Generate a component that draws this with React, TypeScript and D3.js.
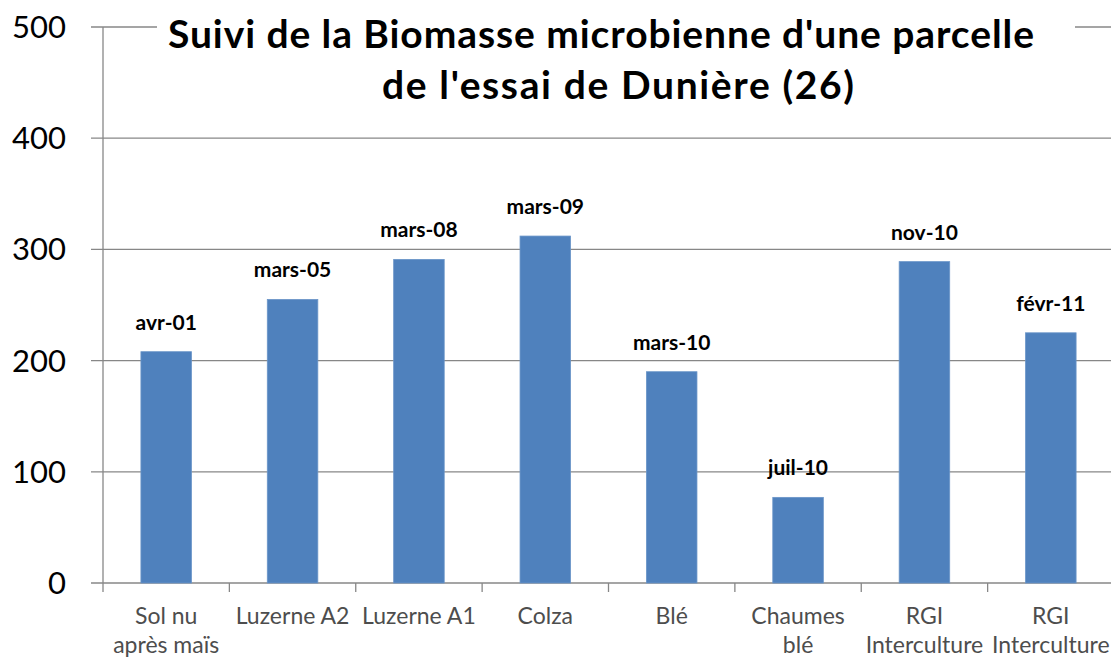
import React, { useEffect, useRef } from "react";
import * as d3 from "d3";

// categories (x axis, two lines each) and the sampling date shown above each bar
const categories = [
  ["Sol nu", "après maïs"],
  ["Luzerne A2"],
  ["Luzerne A1"],
  ["Colza"],
  ["Blé"],
  ["Chaumes", "blé"],
  ["RGI", "Interculture"],
  ["RGI", "Interculture"],
];
const dates = ["avr-01", "mars-05", "mars-08", "mars-09", "mars-10", "juil-10", "nov-10", "févr-11"];
const biomasse = [208, 255, 291, 312, 190, 77, 289, 225];
const yTicks = [0, 100, 200, 300, 400, 500];
const titleLines = ["Suivi de la Biomasse microbienne d'une parcelle", "de l'essai de Dunière (26)"];

const App = () => {
  const node = useRef<SVGSVGElement | null>(null);

  useEffect(() => {
    const width = 1111;
    const height = 657;
    const left = 103;
    const right = 1114;
    const top = 27;
    const bottom = 583;
    const font = "Lato, 'Open Sans', sans-serif";

    const svg = d3.select(node.current);
    svg.selectAll("*").remove();

    const keys = categories.map((c, i) => i + ":" + c.join(" "));

    const x = d3.scaleBand().domain(keys).range([left, right]).paddingInner(0.6).paddingOuter(0.3);
    const xb = d3.scaleBand().domain(keys).range([left, right]);
    const y = d3.scaleLinear().domain([0, 500]).range([bottom, top]);

    // gridlines
    svg.append("g")
      .selectAll("line")
      .data(yTicks)
      .enter()
      .append("line")
      .attr("x1", left - 12)
      .attr("x2", width)
      .attr("y1", d => y(d))
      .attr("y2", d => y(d))
      .attr("stroke", "#878787")
      .attr("stroke-width", 1.3);

    // y labels
    svg.append("g")
      .selectAll("text")
      .data(yTicks)
      .enter()
      .append("text")
      .attr("x", 66)
      .attr("y", d => y(d) + 11)
      .attr("text-anchor", "end")
      .attr("font-family", font)
      .attr("font-size", 31)
      .attr("fill", "#000")
      .text(d => d);

    // y axis line
    svg.append("line")
      .attr("x1", left).attr("x2", left)
      .attr("y1", top).attr("y2", bottom)
      .attr("stroke", "#878787")
      .attr("stroke-width", 1.3);

    // x ticks at band edges
    const edges = keys.map(k => xb(k) as number).concat([right]);
    svg.append("g")
      .selectAll("line")
      .data(edges)
      .enter()
      .append("line")
      .attr("x1", d => d).attr("x2", d => d)
      .attr("y1", bottom).attr("y2", bottom + 9)
      .attr("stroke", "#878787")
      .attr("stroke-width", 1.3);

    // bars
    svg.append("g")
      .selectAll("rect")
      .data(biomasse)
      .enter()
      .append("rect")
      .attr("x", (d, i) => x(keys[i]) as number)
      .attr("y", d => y(d))
      .attr("width", x.bandwidth())
      .attr("height", d => bottom - y(d))
      .attr("fill", "#4F81BD")
      .attr("stroke", "#6a95c8")
      .attr("stroke-width", 0.8);

    // date labels
    svg.append("g")
      .selectAll("text")
      .data(biomasse)
      .enter()
      .append("text")
      .attr("x", (d, i) => (x(keys[i]) as number) + x.bandwidth() / 2)
      .attr("y", d => y(d) - 22)
      .attr("text-anchor", "middle")
      .attr("font-family", font)
      .attr("font-weight", "bold")
      .attr("font-size", 21)
      .attr("fill", "#000")
      .text((d, i) => dates[i]);

    // category labels
    const cat = svg.append("g")
      .selectAll("text")
      .data(categories)
      .enter()
      .append("text")
      .attr("text-anchor", "middle")
      .attr("font-family", font)
      .attr("font-size", 23)
      .attr("fill", "#4d4d4d");
    cat.each(function (c, i) {
      const cx = (xb(keys[i]) as number) + xb.bandwidth() / 2;
      d3.select(this)
        .selectAll("tspan")
        .data(c)
        .enter()
        .append("tspan")
        .attr("x", cx)
        .attr("y", (d, j) => 624 + j * 29)
        .text(d => d);
    });

    // title on a white box that hides the top gridline
    svg.append("rect")
      .attr("x", 157).attr("y", 8)
      .attr("width", 918).attr("height", 104)
      .attr("fill", "#fff");
    const title = svg.append("text")
      .attr("text-anchor", "middle")
      .attr("font-family", font)
      .attr("font-weight", "bold")
      .attr("font-size", 39)
      .attr("fill", "#000");
    title.append("tspan").attr("x", 601).attr("y", 48)
      .attr("textLength", 866).attr("lengthAdjust", "spacing")
      .text(titleLines[0]);
    title.append("tspan").attr("x", 618).attr("y", 99)
      .attr("textLength", 472).attr("lengthAdjust", "spacing")
      .text(titleLines[1]);

    svg.attr("width", width).attr("height", height);
  }, []);

  return (
    <svg
      ref={node}
      width={1111}
      height={657}
      style={{ position: "absolute", left: 0, top: 0, background: "#fff" }}
    />
  );
};

export default App;
